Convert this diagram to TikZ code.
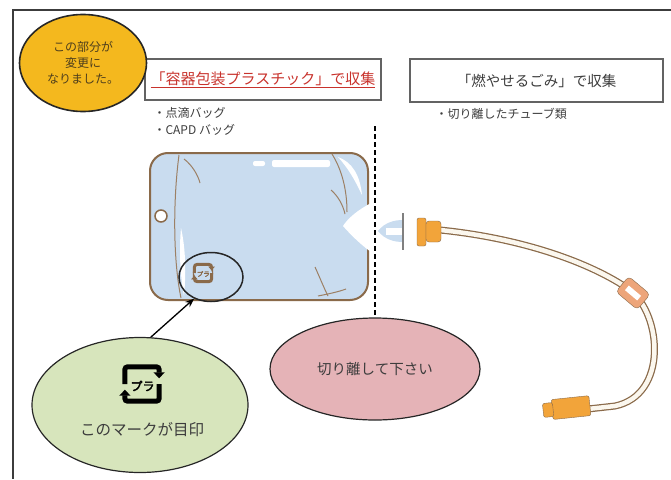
\documentclass[tikz,border=0pt]{standalone}
\usepackage{fontspec}
\newfontfamily\jp{Noto Sans CJK JP}
\newfontfamily\jpbold[FakeBold=3]{Noto Sans CJK JP}
\usetikzlibrary{arrows.meta,shapes.geometric}

\definecolor{bagblue}{HTML}{C9DCEF}
\definecolor{bagedge}{HTML}{8A6A4A}
\definecolor{gold}{HTML}{F4B81E}
\definecolor{leaf}{HTML}{D7E5BC}
\definecolor{rose}{HTML}{E5B3B7}
\definecolor{tubeorange}{HTML}{F2A43A}
\definecolor{tubecream}{HTML}{FBF7EE}
\definecolor{clampcol}{HTML}{EDA57A}
\definecolor{inkgray}{HTML}{3C3C3C}
\definecolor{labelred}{HTML}{C8322C}
\definecolor{notebrown}{HTML}{4E3E1C}

\tikzset{
  frame/.style={line width=1.5pt, inkgray},
  labelbox/.style={draw=inkgray!80, line width=1.2pt, text=inkgray},
  bullet/.style={anchor=west, font=\jp\fontsize{12}{12}\selectfont, text=inkgray},
  bubble/.style={ellipse, draw=black!85, line width=1.2pt, inner sep=0pt},
  bagline/.style={draw=bagedge, line width=2pt},
  fold/.style={bagedge!85, line width=1pt},
  tube/.style={line width=7pt, bagedge},
  mark line/.style={line width=3pt},
  mark text/.style={font=\jpbold\fontsize{6.5}{6.5}\selectfont},
  plamark/.pic={
    \draw[mark line, rounded corners=2.5, -{Triangle[length=0pt 1.2, width=0pt 2.2]}] (-9,0) -- (-9,-9) -- (9,-9) -- (9,-3);
    \draw[mark line, rounded corners=2.5, -{Triangle[length=0pt 1.2, width=0pt 2.2]}] (9,0) -- (9,9) -- (-9,9) -- (-9,3);
    \node[mark text, inner sep=0pt] at (0.3,1) {プラ};
  }
}

\begin{document}
\begin{tikzpicture}[x=1pt, y=-1pt]
  \useasboundingbox (0,0) rectangle (671,479);

  % outer frame
  \draw[frame] (671,10) -- (13,10) -- (13,479);

  % label boxes
  \node[labelbox, minimum width=236, minimum height=41,
        font=\jp\fontsize{15}{15}\selectfont] (plabox) at (263,79.5)
    {\color{labelred}\underline{「容器包装プラスチック」で収集}};
  \node[labelbox, minimum width=253, minimum height=43,
        font=\jp\fontsize{14.5}{15}\selectfont] (burnbox) at (536.5,80.5)
    {「燃やせるごみ」で収集};

  % note bubble
  \node[bubble, fill=gold, line width=1.6pt, minimum width=127, minimum height=97,
        align=center, text=notebrown, font=\jp\fontsize{12}{16}\selectfont] (note) at (83,63)
    {この部分が\\変更に\\なりました。};

  % item lists
  \node[bullet] (drip) at (150,113) {・点滴バッグ};
  \node[bullet] (capd) at (150,130) {・CAPD バッグ};
  \node[bullet] (tubes) at (432,114) {・切り離したチューブ類};

  % bag
  \draw[bagline, fill=bagblue, rounded corners=18] (150,153) rectangle (368,300);
  \fill[white] (371,203) .. controls (358,210) and (348,218) .. (343,226)
    .. controls (350,234) and (360,244) .. (371,252) -- cycle;
  \fill[white, rounded corners=2] (253,161) rectangle (265,166);
  \fill[white, rounded corners=2] (272,160) rectangle (330,167);
  \fill[white] (338,157) .. controls (352,162) and (360,175) .. (362,195)
    .. controls (355,180) and (348,168) .. (338,157);
  \fill[white] (181,228) .. controls (186,250) and (186,275) .. (184,296)
    .. controls (180,275) and (179,250) .. (181,228);
  \draw[fold] (179,155) .. controls (173,200) and (173,260) .. (181,298);
  \draw[fold] (184,159) .. controls (192,165) and (198,175) .. (200,183);
  \draw[fold] (332,154) .. controls (342,170) and (347,190) .. (347,212);
  \draw[fold] (331,190) .. controls (338,196) and (343,205) .. (345,214);
  \draw[fold] (315,267) .. controls (320,278) and (324,288) .. (328,296);
  \draw[fold] (318,296) .. controls (328,294) and (338,292) .. (346,289);
  \draw[bagline, line width=1.5pt, fill=white] (161,216) circle (6);
  \pic[bagedge, scale=0.95] at (203,273) {plamark};

  % ring round the mark
  \node[bubble, line width=1.5pt, minimum width=64, minimum height=49] (ring) at (211,277) {};

  % guide bubble
  \node[bubble, fill=leaf, minimum width=216, minimum height=135] (guide) at (140,405) {};
  \pic[black, scale=1.9, mark line/.style={line width=5pt},
       mark text/.style={font=\jpbold\fontsize{12}{12}\selectfont}] at (142,384) {plamark};
  \node[font=\jp\fontsize{15.5}{16}\selectfont, text=inkgray] (guidetext) at (142,430) {このマークが目印};
  \draw[-{Stealth[length=9pt,width=7pt]}, line width=1.3pt] (guide.81) -- (ring.232);

  % cut bubble and cut line
  \node[bubble, fill=rose, minimum width=210, minimum height=102,
        font=\jp\fontsize{14.5}{15}\selectfont, text=inkgray] (cutmsg) at (375,369) {切り離して下さい};
  \coordinate (cut) at (375,126);
  \draw[line width=2pt, dash pattern=on 5pt off 3pt] (cut) -- (cutmsg.north);

  % spike
  \fill[bagblue] (378,231) .. controls (385,222) and (395,220) .. (403,220) -- (403,242)
    .. controls (395,242) and (385,240) .. (378,231);
  \fill[white] (386,228) rectangle (418,235);
  \draw[gray, line width=2.5pt] (403,213) -- (403,250);

  % tube
  \draw[tube] (440,230) .. controls (520,238) and (590,262) .. (630,290)
    .. controls (662,315) and (668,395) .. (615,406) -- (588,409);
  \draw[tubecream, line width=4.5pt] (440,230) .. controls (520,238) and (590,262) .. (630,290)
    .. controls (662,315) and (668,395) .. (615,406) -- (588,409);

  % connector
  \draw[bagedge, fill=tubeorange, rounded corners=2] (417,218) rectangle (426,246);
  \draw[bagedge, fill=tubeorange, rounded corners=3] (426,221) rectangle (441,242);

  % clamp
  \draw[bagedge, fill=clampcol, rounded corners=4, rotate around={-40:(633,293)}] (619,283) rectangle (647,303);
  \fill[white, rotate around={-40:(633,293)}] (625,290) rectangle (641,296);

  % end piece
  \draw[bagedge, fill=tubeorange, rounded corners=2, rotate around={6:(567,408)}] (552,398) rectangle (590,418);
  \draw[bagedge, fill=tubeorange, rounded corners=2, rotate around={6:(567,408)}] (543,401) rectangle (553,415);
\end{tikzpicture}
\end{document}
